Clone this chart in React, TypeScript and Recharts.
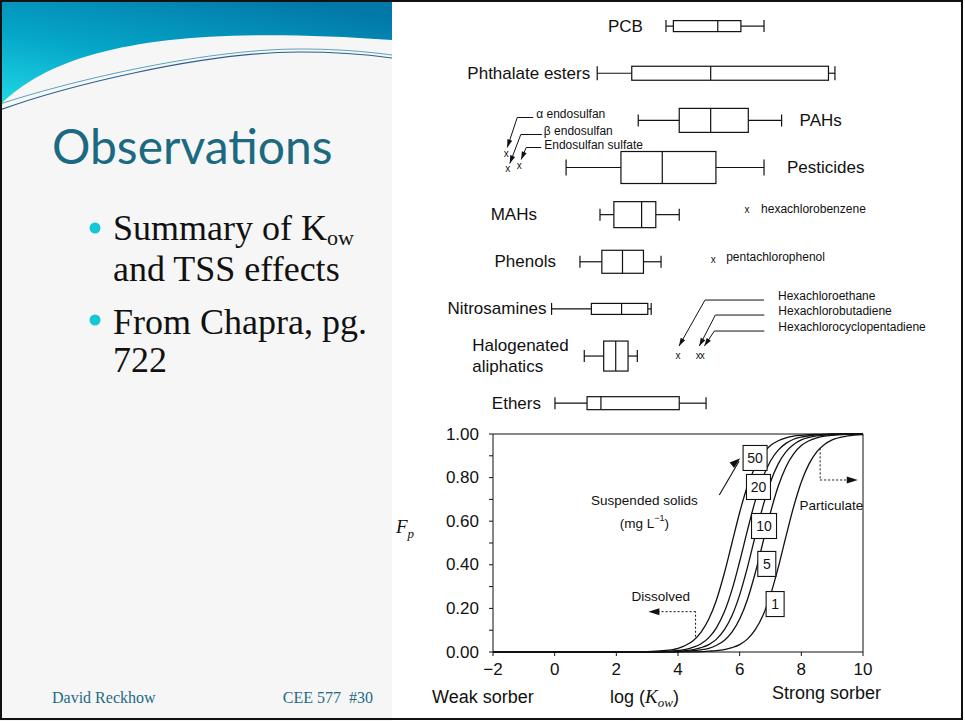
import React from 'react';
import {
  ComposedChart,
  Bar,
  XAxis,
  YAxis,
  LineChart,
  Line,
  ReferenceLine,
  ReferenceDot,
} from 'recharts';

// ---------------- data: log Kow ranges of compound classes ----------------
const compoundClasses = [
  'PCB',
  'Phthalate esters',
  'PAHs',
  'Pesticides',
  'MAHs',
  'Phenols',
  'Nitrosamines',
  'Halogenated aliphatics',
  'Ethers',
];
const whiskerLow = [3.61, 1.38, 2.71, 0.37, 1.47, 0.82, -0.1, 0.96, 0.01];
const quartileLow = [3.85, 2.5, 4.04, 2.15, 1.92, 1.53, 1.19, 1.59, 1.05];
const medianLogKow = [5.29, 5.06, 5.06, 3.49, 2.82, 2.2, 2.17, 1.98, 1.5];
const quartileHigh = [6.04, 8.88, 6.28, 5.23, 3.28, 2.88, 3.02, 2.38, 4.04];
const whiskerHigh = [6.79, 9.09, 7.36, 6.79, 4.04, 3.45, 3.13, 2.68, 4.91];

const outlierNames = [
  'α endosulfan',
  'β endosulfan',
  'Endosulfan sulfate',
  'hexachlorobenzene',
  'pentachlorophenol',
  'Hexachloroethane',
  'Hexachlorobutadiene',
  'Hexachlorocyclopentadiene',
];
const outlierClass = [
  'Pesticides',
  'Pesticides',
  'Pesticides',
  'MAHs',
  'Phenols',
  'Halogenated aliphatics',
  'Halogenated aliphatics',
  'Halogenated aliphatics',
];
const outlierLogKow = [-1.57, -1.52, -1.15, 6.24, 5.14, 4.0, 4.66, 4.79];

// ---------------- data: fraction particulate Fp vs log Kow ----------------
const logKowGrid = [
  -2, 2, 3, 3.5, 4, 4.25, 4.5, 4.75, 5, 5.25, 5.5, 5.75, 6, 6.25, 6.5, 6.75, 7, 7.25, 7.5, 7.75, 8, 8.25, 8.5,
  8.75, 9, 9.5, 10,
];
const fpTss50 = [
  0, 0, 0.002, 0.006, 0.017, 0.031, 0.053, 0.091, 0.151, 0.24, 0.36, 0.5, 0.64, 0.76, 0.849, 0.909, 0.947,
  0.969, 0.982, 0.99, 0.994, 0.997, 0.998, 0.999, 1, 1, 1,
];
const fpTss20 = [
  0, 0, 0.001, 0.002, 0.007, 0.012, 0.022, 0.038, 0.066, 0.112, 0.183, 0.285, 0.415, 0.557, 0.691, 0.799,
  0.876, 0.926, 0.957, 0.976, 0.986, 0.992, 0.996, 0.997, 0.999, 1, 1,
];
const fpTss10 = [
  0, 0, 0, 0.001, 0.004, 0.006, 0.011, 0.02, 0.034, 0.059, 0.101, 0.166, 0.262, 0.387, 0.529, 0.666, 0.78,
  0.863, 0.918, 0.952, 0.973, 0.984, 0.991, 0.995, 0.997, 0.999, 1,
];
const fpTss5 = [
  0, 0, 0, 0.001, 0.002, 0.003, 0.006, 0.01, 0.017, 0.031, 0.053, 0.091, 0.151, 0.24, 0.36, 0.5, 0.64, 0.76,
  0.849, 0.909, 0.947, 0.969, 0.982, 0.99, 0.994, 0.998, 0.999,
];
const fpTss1 = [
  0, 0, 0, 0, 0, 0.001, 0.001, 0.002, 0.004, 0.006, 0.011, 0.02, 0.034, 0.059, 0.101, 0.166, 0.262, 0.387,
  0.529, 0.666, 0.78, 0.863, 0.918, 0.952, 0.973, 0.991, 0.997,
];
const tssLabels = ['50', '20', '10', '5', '1'];
const xTicks = [-2, 0, 2, 4, 6, 8, 10];
const yTicks = [0, 0.1, 0.2, 0.3, 0.4, 0.5, 0.6, 0.7, 0.8, 0.9, 1];

// ---------------- tables built from the arrays ----------------
const boxRows = compoundClasses.map((name, i) => ({
  name,
  low: whiskerLow[i],
  q1: quartileLow[i],
  med: medianLogKow[i],
  q3: quartileHigh[i],
  high: whiskerHigh[i],
  range: [quartileLow[i], quartileHigh[i]],
}));
const outliers = outlierNames.map((name, i) => ({ name, cls: outlierClass[i], value: outlierLogKow[i] }));
const curveRows = logKowGrid.map((x, i) => ({
  logKow: x,
  tss50: fpTss50[i],
  tss20: fpTss20[i],
  tss10: fpTss10[i],
  tss5: fpTss5[i],
  tss1: fpTss1[i],
}));

// ---------------- styles / layout ----------------
const SANS = 'Liberation Sans, Arial, Helvetica, sans-serif';
const SERIF = 'Liberation Serif, Times New Roman, serif';
const INK = '#111';

type RowStyle = {
  box: number;
  cap: number;
  anchor: 'start' | 'end';
  ref: 'low' | 'high';
  dx: number;
  lines?: string[];
};
const ROW_STYLE: Record<string, RowStyle> = {
  PCB: { box: 11, cap: 12, anchor: 'end', ref: 'low', dx: -23 },
  'Phthalate esters': { box: 14, cap: 14, anchor: 'end', ref: 'low', dx: -7 },
  PAHs: { box: 24, cap: 12, anchor: 'start', ref: 'high', dx: 18 },
  Pesticides: { box: 32, cap: 16, anchor: 'start', ref: 'high', dx: 23 },
  MAHs: { box: 26, cap: 12, anchor: 'end', ref: 'low', dx: -63 },
  Phenols: { box: 23, cap: 12, anchor: 'end', ref: 'low', dx: -24 },
  Nitrosamines: { box: 11, cap: 12, anchor: 'end', ref: 'low', dx: -5 },
  'Halogenated aliphatics': {
    box: 30,
    cap: 12,
    anchor: 'start',
    ref: 'low',
    dx: -112,
    lines: ['Halogenated', 'aliphatics'],
  },
  Ethers: { box: 13, cap: 12, anchor: 'end', ref: 'low', dx: -14 },
};

type OutStyle = { dy: number; label: [number, number]; leader?: [number, number][] };
const OUTLIER_STYLE: Record<string, OutStyle> = {
  'α endosulfan': { dy: -14, label: [30, -40], leader: [[27, -36], [11, -36], [1, -6]] },
  'β endosulfan': { dy: 1, label: [36, -38], leader: [[34, -34], [13, -34], [2, -5]] },
  'Endosulfan sulfate': { dy: -2, label: [25, -21], leader: [[22, -18], [7, -18], [2, -6]] },
  hexachlorobenzene: { dy: -5, label: [14, -1] },
  pentachlorophenol: { dy: -2, label: [13, -3] },
  Hexachloroethane: { dy: -1, label: [100, -59], leader: [[86, -55], [27, -55], [1, -9]] },
  Hexachlorobutadiene: { dy: -1, label: [80, -44], leader: [[66, -40], [17, -40], [1, -9]] },
  Hexachlorocyclopentadiene: { dy: -1, label: [76, -28], leader: [[62, -24], [12, -24], [2, -9]] },
};

// label boxes on the Fp curves: [log Kow, Fp, box width]
const TSS_LABEL_AT: Record<string, [number, number, number]> = {
  '50': [6.5, 0.89, 24],
  '20': [6.61, 0.757, 24],
  '10': [6.79, 0.578, 25],
  '5': [6.88, 0.404, 18],
  '1': [7.15, 0.22, 18],
};

function arrowHead(tipX: number, tipY: number, angleRad: number, len = 9, half = 3) {
  const bx = tipX - Math.cos(angleRad) * len;
  const by = tipY - Math.sin(angleRad) * len;
  const nx = -Math.sin(angleRad) * half;
  const ny = Math.cos(angleRad) * half;
  return `M${tipX},${tipY} L${bx + nx},${by + ny} L${bx - nx},${by - ny} Z`;
}

function BoxShape(props: any) {
  const { x, y, width, height, index } = props;
  const d = boxRows[index];
  if (!d) return null;
  const st = ROW_STYLE[d.name];
  const k = width / (d.q3 - d.q1);
  const px = (v: number) => x + (v - d.q1) * k;
  const cy = y + height / 2;
  const half = st.box / 2;
  const capHalf = st.cap / 2;
  const xl = px(d.low);
  const xh = px(d.high);
  const x1 = px(d.q1);
  const x3 = px(d.q3);
  const xm = px(d.med);
  const refX = (st.ref === 'low' ? xl : xh) + st.dx;
  const rowOutliers = outliers.filter((o) => o.cls === d.name);
  return (
    <g>
      <line x1={xl} x2={x1} y1={cy} y2={cy} stroke={INK} strokeWidth={1.2} />
      <line x1={x3} x2={xh} y1={cy} y2={cy} stroke={INK} strokeWidth={1.2} />
      <line x1={xl} x2={xl} y1={cy - capHalf} y2={cy + capHalf} stroke={INK} strokeWidth={1.2} />
      <line x1={xh} x2={xh} y1={cy - capHalf} y2={cy + capHalf} stroke={INK} strokeWidth={1.2} />
      <rect x={x1} y={cy - half} width={x3 - x1} height={st.box} fill="#fff" stroke={INK} strokeWidth={1.2} />
      <line x1={xm} x2={xm} y1={cy - half} y2={cy + half} stroke={INK} strokeWidth={1.2} />
      {st.lines ? (
        st.lines.map((t, i) => (
          <text
            key={t}
            x={refX}
            y={cy + (i === 0 ? -11 : 10)}
            textAnchor={st.anchor}
            dominantBaseline="central"
            fontFamily={SANS}
            fontSize={17}
            fill={INK}
          >
            {t}
          </text>
        ))
      ) : (
        <text
          x={refX}
          y={cy}
          textAnchor={st.anchor}
          dominantBaseline="central"
          fontFamily={SANS}
          fontSize={17}
          fill={INK}
        >
          {d.name}
        </text>
      )}
      {rowOutliers.map((o) => {
        const os = OUTLIER_STYLE[o.name];
        const mx = px(o.value);
        const my = cy + os.dy;
        let leader = null;
        if (os.leader) {
          const pts = os.leader.map(([a, b]) => [mx + a, my + b]);
          const n = pts.length;
          const ang = Math.atan2(pts[n - 1][1] - pts[n - 2][1], pts[n - 1][0] - pts[n - 2][0]);
          leader = (
            <g>
              <polyline
                points={pts.map((p) => p.join(',')).join(' ')}
                fill="none"
                stroke={INK}
                strokeWidth={1}
              />
              <path d={arrowHead(pts[n - 1][0], pts[n - 1][1], ang, 8, 2.6)} fill={INK} />
            </g>
          );
        }
        return (
          <g key={o.name}>
            <text
              x={mx}
              y={my}
              textAnchor="middle"
              dominantBaseline="central"
              fontFamily={SANS}
              fontSize={10}
              fill={INK}
            >
              x
            </text>
            {leader}
            <text
              x={mx + os.label[0]}
              y={my + os.label[1]}
              dominantBaseline="central"
              fontFamily={SANS}
              fontSize={12}
              fill={INK}
            >
              {o.name}
            </text>
          </g>
        );
      })}
    </g>
  );
}

function YTick(props: any) {
  const { x, y, payload } = props;
  const v = payload.value as number;
  const major = Math.round(v * 10) % 2 === 0;
  return (
    <g>
      <line x1={x - 4} x2={x} y1={y} y2={y} stroke={INK} strokeWidth={1} />
      {major && (
        <text
          x={x - 14}
          y={y}
          textAnchor="end"
          dominantBaseline="central"
          fontFamily={SANS}
          fontSize={17}
          fill={INK}
        >
          {v.toFixed(2)}
        </text>
      )}
    </g>
  );
}

function XTick(props: any) {
  const { x, y, payload } = props;
  const v = payload.value as number;
  return (
    <g>
      <line x1={x} x2={x} y1={y} y2={y + 4} stroke={INK} strokeWidth={1} />
      <text x={x} y={y + 17} textAnchor="middle" dominantBaseline="central" fontFamily={SANS} fontSize={17} fill={INK}>
        {v < 0 ? `\u2212${Math.abs(v)}` : String(v)}
      </text>
    </g>
  );
}

const textDot = (label: React.ReactNode, anchor: 'start' | 'middle' | 'end', size = 13.5) => (p: any) => (
  <text
    x={p.cx}
    y={p.cy}
    textAnchor={anchor}
    dominantBaseline="central"
    fontFamily={SANS}
    fontSize={size}
    fill={INK}
  >
    {label}
  </text>
);

const arrowDot = (angleDeg: number) => (p: any) => (
  <path d={arrowHead(p.cx, p.cy, (angleDeg * Math.PI) / 180, 11, 3.5)} fill={INK} />
);

function BoxPlots() {
  return (
    <ComposedChart
      width={560}
      height={430}
      layout="vertical"
      data={boxRows}
      margin={{ top: 2.4, right: 90, bottom: 3.4, left: 100 }}
      style={{ overflow: 'visible' }}
    >
      <XAxis type="number" domain={[-2, 10]} hide />
      <YAxis type="category" dataKey="name" hide />
      <Bar dataKey="range" shape={<BoxShape />} isAnimationActive={false} />
    </ComposedChart>
  );
}

function FpChart() {
  const keys = ['tss50', 'tss20', 'tss10', 'tss5', 'tss1'];
  return (
    <LineChart width={560} height={300} data={curveRows} margin={{ top: 14, right: 90, bottom: 0, left: 0 }}>
      <XAxis
        dataKey="logKow"
        type="number"
        domain={[-2, 10]}
        ticks={xTicks}
        interval={0}
        tick={(p: any) => <XTick {...p} />}
        tickLine={false}
        tickSize={0}
        tickMargin={0}
        height={68}
        stroke={INK}
      />
      <YAxis
        type="number"
        domain={[0, 1]}
        ticks={yTicks}
        interval={0}
        tick={(p: any) => <YTick {...p} />}
        tickLine={false}
        tickSize={0}
        tickMargin={0}
        width={100}
        stroke={INK}
      />
      <ReferenceLine y={1} stroke={INK} strokeWidth={1} />
      <ReferenceLine x={10} stroke={INK} strokeWidth={1} />
      {keys.map((k) => (
        <Line
          key={k}
          dataKey={k}
          type="monotone"
          stroke={INK}
          strokeWidth={1.3}
          dot={false}
          activeDot={false}
          isAnimationActive={false}
        />
      ))}
      {/* dissolved arrow */}
      <ReferenceLine
        segment={[
          { x: 4.57, y: 0.07 },
          { x: 4.57, y: 0.185 },
        ]}
        stroke={INK}
        strokeDasharray="2 2"
      />
      <ReferenceLine
        segment={[
          { x: 4.57, y: 0.185 },
          { x: 3.3, y: 0.185 },
        ]}
        stroke={INK}
        strokeDasharray="2 2"
      />
      <ReferenceDot x={3.04} y={0.185} r={1} shape={arrowDot(180)} />
      <ReferenceDot x={3.44} y={0.254} r={1} shape={textDot('Dissolved', 'middle')} />
      {/* particulate arrow */}
      <ReferenceLine
        segment={[
          { x: 8.61, y: 0.934 },
          { x: 8.61, y: 0.789 },
        ]}
        stroke={INK}
        strokeDasharray="2 2"
      />
      <ReferenceLine
        segment={[
          { x: 8.61, y: 0.789 },
          { x: 9.5, y: 0.789 },
        ]}
        stroke={INK}
        strokeDasharray="2 2"
      />
      <ReferenceDot x={9.83} y={0.789} r={1} shape={arrowDot(0)} />
      <ReferenceDot x={7.94} y={0.67} r={1} shape={textDot('Particulate', 'start')} />
      {/* suspended solids */}
      <ReferenceLine
        segment={[
          { x: 5.34, y: 0.72 },
          { x: 5.98, y: 0.875 },
        ]}
        stroke={INK}
        strokeWidth={1.1}
      />
      <ReferenceDot x={6.02} y={0.889} r={1} shape={arrowDot(-40)} />
      <ReferenceDot x={2.91} y={0.693} r={1} shape={textDot('Suspended solids', 'middle')} />
      <ReferenceDot
        x={2.91}
        y={0.59}
        r={1}
        shape={textDot(
          <>
            (mg L
            <tspan fontSize={9} dy={-5}>
              −1
            </tspan>
            <tspan dy={5}>)</tspan>
          </>,
          'middle',
        )}
      />
      {tssLabels.map((t) => {
        const [lx, ly, w] = TSS_LABEL_AT[t];
        return (
          <ReferenceDot
            key={t}
            x={lx}
            y={ly}
            r={1}
            shape={(p: any) => (
              <g>
                <rect x={p.cx - w / 2} y={p.cy - 12.5} width={w} height={25} fill="#fff" stroke={INK} strokeWidth={1.1} />
                <text
                  x={p.cx}
                  y={p.cy}
                  textAnchor="middle"
                  dominantBaseline="central"
                  fontFamily={SANS}
                  fontSize={14}
                  fill={INK}
                >
                  {t}
                </text>
              </g>
            )}
          />
        );
      })}
    </LineChart>
  );
}

function LeftPanel() {
  return (
    <svg width={392} height={721} style={{ position: 'absolute', left: 0, top: 0 }}>
      <defs>
        <linearGradient id="hdrGrad" x1="0.75" y1="0" x2="0.05" y2="1">
          <stop offset="0" stopColor="#0278a9" />
          <stop offset="0.55" stopColor="#05a6c8" />
          <stop offset="1" stopColor="#1fd6e4" />
        </linearGradient>
      </defs>
      <rect x={0} y={0} width={392} height={721} fill="#f6f6f6" />
      <path d="M0,0 H392 V40 C180,25 60,45 0,105 Z" fill="url(#hdrGrad)" />
      <path d="M0,110 C60,88 200,52 300,52 C340,52 370,55 392,58" stroke="#2f5f8e" strokeWidth={1.2} fill="none" />
      <path d="M0,104 C60,84 200,49 300,49 C340,49 370,52 392,55" stroke="#5aa3bd" strokeWidth={1} fill="none" />
      <text x={52} y={164} fontFamily="Lato, Open Sans, sans-serif" fontSize={48} fill="#1b6a82">
        Observations
      </text>
      <circle cx={95} cy={228} r={5.5} fill="#16c6d7" />
      <text x={113} y={240} fontFamily={SERIF} fontSize={36} fill="#111">
        Summary of K
        <tspan fontSize={22} dy={5}>
          ow
        </tspan>
      </text>
      <text x={113} y={281} fontFamily={SERIF} fontSize={36} fill="#111">
        and TSS effects
      </text>
      <circle cx={95} cy={320} r={5.5} fill="#16c6d7" />
      <text x={113} y={334} fontFamily={SERIF} fontSize={36} fill="#111">
        From Chapra, pg.
      </text>
      <text x={113} y={372} fontFamily={SERIF} fontSize={36} fill="#111">
        722
      </text>
      <text x={52} y={703} fontFamily={SERIF} fontSize={16} fill="#1f6a86">
        David Reckhow
      </text>
      <text x={373} y={703} textAnchor="end" fontFamily={SERIF} fontSize={16} fill="#1f6a86">
        {'CEE 577\u00a0\u00a0#30'}
      </text>
    </svg>
  );
}

export default function App() {
  return (
    <div
      style={{
        position: 'absolute',
        left: 0,
        top: 0,
        width: 965,
        height: 721,
        background: '#fff',
        overflow: 'hidden',
      }}
    >
      <LeftPanel />
      <div style={{ position: 'absolute', left: 393, top: 0, width: 560, height: 430 }}>
        <BoxPlots />
      </div>
      <div style={{ position: 'absolute', left: 393, top: 420, width: 560, height: 300 }}>
        <FpChart />
      </div>
      <svg width={965} height={721} style={{ position: 'absolute', left: 0, top: 0, pointerEvents: 'none' }}>
        <text x={396} y={533} fontFamily={SERIF} fontStyle="italic" fontSize={19} fill={INK}>
          F
          <tspan fontSize={13} dy={5}>
            p
          </tspan>
        </text>
        <text x={432} y={703} fontFamily={SANS} fontSize={18} fill={INK}>
          Weak sorber
        </text>
        <text x={610} y={703} fontFamily={SANS} fontSize={18} fill={INK}>
          log (
          <tspan fontFamily={SERIF} fontStyle="italic" fontSize={19}>
            K
          </tspan>
          <tspan fontFamily={SERIF} fontStyle="italic" fontSize={13} dy={4}>
            ow
          </tspan>
          <tspan dy={-4}>)</tspan>
        </text>
        <text x={772} y={699} fontFamily={SANS} fontSize={18} fill={INK}>
          Strong sorber
        </text>
      </svg>
      <div
        style={{
          position: 'absolute',
          left: 0,
          top: 0,
          width: 963,
          height: 720,
          border: '2px solid #111',
          boxSizing: 'border-box',
          pointerEvents: 'none',
        }}
      />
    </div>
  );
}
